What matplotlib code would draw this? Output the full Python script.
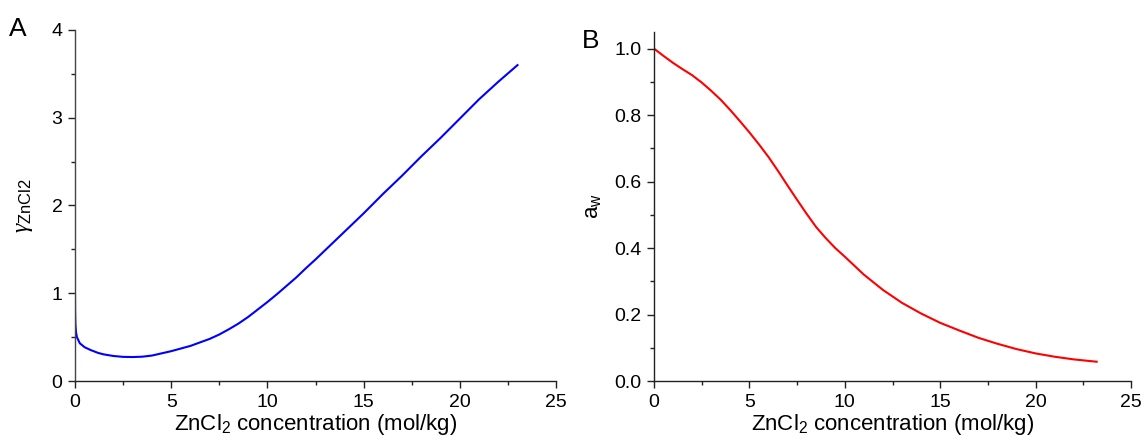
import matplotlib
matplotlib.use("Agg")
import matplotlib.pyplot as plt
from matplotlib.ticker import MultipleLocator, FormatStrFormatter

plt.rcParams['font.family'] = ['Liberation Sans', 'DejaVu Sans']
plt.rcParams['mathtext.fontset'] = 'custom'
plt.rcParams['mathtext.rm'] = 'Liberation Sans'
plt.rcParams['mathtext.it'] = 'Liberation Serif:italic'

# Panel A: activity coefficient of ZnCl2
conc_a = [0.0, 0.005, 0.02, 0.05, 0.1, 0.25, 0.5, 0.8, 1.2, 1.5, 2.0, 2.5, 3.0, 3.5,
          4.0, 5.0, 6.0, 7.0, 7.5, 8.0, 8.5, 9.0, 9.5, 10.0, 10.5, 11.0, 11.5, 12.0,
          12.5, 13.0, 13.5, 14.0, 15.0, 16.0, 17.0, 18.0, 19.0, 20.0, 21.0, 22.0, 23.0]
gamma_a = [1.0, 0.80, 0.65, 0.56, 0.50, 0.43, 0.385, 0.354, 0.32, 0.303, 0.285, 0.275,
           0.273, 0.277, 0.29, 0.34, 0.40, 0.48, 0.53, 0.59, 0.655, 0.73, 0.815, 0.90,
           0.99, 1.085, 1.18, 1.285, 1.385, 1.49, 1.595, 1.70, 1.91, 2.13, 2.34, 2.56,
           2.77, 2.99, 3.21, 3.41, 3.60]

# Panel B: water activity
conc_b = [0.0, 0.5, 1.0, 1.5, 2.0, 2.5, 3.0, 3.5, 4.0, 4.5, 5.0, 5.5, 6.0, 6.5, 7.0,
          7.5, 8.0, 8.5, 9.0, 9.5, 10.0, 11.0, 12.0, 13.0, 14.0, 15.0, 16.0, 17.0,
          18.0, 19.0, 20.0, 21.0, 22.0, 23.2]
aw_b = [1.0, 0.978, 0.957, 0.938, 0.92, 0.898, 0.873, 0.846, 0.815, 0.782, 0.748,
        0.712, 0.674, 0.632, 0.588, 0.545, 0.503, 0.463, 0.43, 0.40, 0.374, 0.32,
        0.274, 0.235, 0.203, 0.175, 0.152, 0.130, 0.112, 0.096, 0.083, 0.073,
        0.065, 0.058]

fig = plt.figure(figsize=(11.45, 4.48), dpi=100)
axA = fig.add_axes([75/1145, (448-381)/448, 481/1145, 351/448])
axB = fig.add_axes([654/1145, (448-381)/448, 477/1145, 349/448])

for ax in (axA, axB):
    for s in ('top', 'right'):
        ax.spines[s].set_visible(False)
    for s in ('left', 'bottom'):
        ax.spines[s].set_linewidth(1.0)
        ax.spines[s].set_color('#222222')
    ax.tick_params(which='major', direction='out', length=5, width=1.0,
                   labelsize=14, pad=4, color='#222222')
    ax.tick_params(which='minor', direction='out', length=3, width=1.0, color='#222222')
    ax.set_xlim(0, 25)
    ax.xaxis.set_major_locator(MultipleLocator(5))
    ax.xaxis.set_minor_locator(MultipleLocator(2.5))
    ax.set_xlabel(r'ZnCl$_2$ concentration (mol/kg)', fontsize=16, labelpad=1)

axA.spines['left'].set_color('#444444')
axA.plot(conc_a, gamma_a, color='#0000ff', lw=1.5)
axA.set_ylim(0, 4)
axA.yaxis.set_major_locator(MultipleLocator(1))
axA.yaxis.set_minor_locator(MultipleLocator(0.5))
axA.set_ylabel(r'$\mathit{\gamma}_{\mathrm{ZnCl2}}$', fontsize=17, labelpad=12)

axB.plot(conc_b, aw_b, color='#ff0000', lw=1.5)
axB.set_ylim(0, 1.05)
axB.yaxis.set_major_locator(MultipleLocator(0.2))
axB.yaxis.set_minor_locator(MultipleLocator(0.1))
axB.yaxis.set_major_formatter(FormatStrFormatter('%.1f'))
axB.set_ylabel(r'a$_\mathrm{w}$', fontsize=16, labelpad=8)

fig.text(9/1145, 1 - 36/448, 'A', fontsize=19)
fig.text(582/1145, 1 - 48/448, 'B', fontsize=19)

fig.savefig('out.png', dpi=100)
